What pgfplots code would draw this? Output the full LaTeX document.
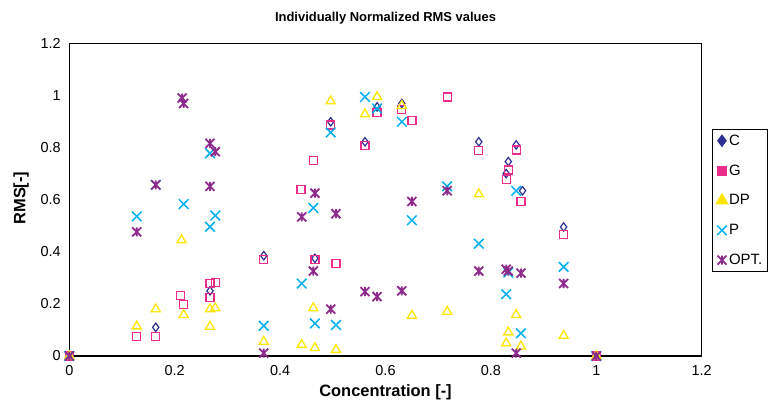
\documentclass[border=0pt]{standalone}
\usepackage{fontspec}
\setmainfont{Liberation Sans}
\usepackage{pgfplots}
\usepackage{pgfplotstable}
\pgfplotsset{compat=1.18}
\definecolor{cC}{HTML}{2E3192}
\definecolor{cG}{HTML}{EC2C8C}
\definecolor{cDP}{HTML}{FFE600}
\definecolor{cP}{HTML}{00B0EE}
\definecolor{cOPT}{HTML}{8E2A8C}
\pgfdeclareplotmark{xstar}{%
  \pgfpathmoveto{\pgfqpoint{0pt}{\pgfplotmarksize}}%
  \pgfpathlineto{\pgfqpoint{0pt}{-\pgfplotmarksize}}%
  \pgfpathmoveto{\pgfqpoint{-\pgfplotmarksize}{-\pgfplotmarksize}}%
  \pgfpathlineto{\pgfqpoint{\pgfplotmarksize}{\pgfplotmarksize}}%
  \pgfpathmoveto{\pgfqpoint{-\pgfplotmarksize}{\pgfplotmarksize}}%
  \pgfpathlineto{\pgfqpoint{\pgfplotmarksize}{-\pgfplotmarksize}}%
  \pgfusepathqstroke}

\pgfplotstableread{
x y
0 0
0.164 0.110
0.267 0.250
0.369 0.385
0.466 0.375
0.496 0.899
0.561 0.822
0.584 0.956
0.631 0.969
0.777 0.822
0.829 0.700
0.833 0.746
0.848 0.810
0.860 0.634
0.938 0.495
1 0
}\dataC
\pgfplotstableread{
x y
0 0
0.128 0.074
0.164 0.074
0.2115 0.2325
0.217 0.197
0.267 0.224
0.267 0.278
0.277 0.282
0.369 0.371
0.4395 0.6395
0.463 0.750
0.466 0.371
0.496 0.886
0.506 0.354
0.561 0.807
0.584 0.935
0.631 0.947
0.650 0.904
0.717 0.994
0.777 0.788
0.829 0.676
0.833 0.714
0.848 0.791
0.857 0.593
0.938 0.466
1 0
}\dataG
\pgfplotstableread{
x y
0 0
0.128 0.114
0.164 0.180
0.213 0.445
0.217 0.158
0.267 0.113
0.267 0.180
0.277 0.184
0.369 0.055
0.441 0.043
0.463 0.184
0.466 0.031
0.496 0.978
0.506 0.024
0.561 0.928
0.584 0.994
0.631 0.960
0.650 0.155
0.717 0.170
0.777 0.621
0.829 0.049
0.833 0.091
0.848 0.158
0.857 0.037
0.938 0.078
1 0
}\dataDP
\pgfplotstableread{
x y
0 0
0.128 0.536
0.164 0.657
0.217 0.583
0.267 0.778
0.267 0.496
0.277 0.539
0.369 0.116
0.441 0.278
0.463 0.568
0.466 0.125
0.496 0.858
0.506 0.119
0.561 0.994
0.584 0.950
0.631 0.899
0.650 0.521
0.717 0.651
0.777 0.431
0.829 0.237
0.833 0.320
0.848 0.634
0.857 0.087
0.938 0.342
1 0
}\dataP
\pgfplotstableread{
x y
0 0
0.128 0.476
0.164 0.657
0.214 0.990
0.217 0.969
0.267 0.816
0.267 0.651
0.277 0.784
0.369 0.011
0.441 0.534
0.463 0.326
0.466 0.625
0.496 0.180
0.506 0.546
0.561 0.247
0.584 0.228
0.631 0.250
0.650 0.593
0.717 0.634
0.777 0.326
0.829 0.333
0.833 0.326
0.848 0.011
0.857 0.318
0.938 0.278
1 0
}\dataOPT

\begin{document}
\begin{tikzpicture}[x=1bp,y=1bp]
\begin{axis}[
  at={(69.3bp,49bp)}, anchor=south west,
  width=632.4bp, height=312.7bp, scale only axis,
  xmin=0, xmax=1.2, ymin=0, ymax=1.2,
  xtick={0,0.2,0.4,0.6,0.8,1,1.2},
  ytick={0,0.2,0.4,0.6,0.8,1,1.2},
  major tick length=0pt,
  axis line style={line width=1.2bp},
  /pgf/number format/assume math mode=true,
  tick label style={font=\fontsize{14.5}{16}\selectfont},
  xticklabel style={yshift=-6bp},
  yticklabel style={xshift=-5bp},
  title={\textbf{Individually Normalized RMS values}},
  every axis title/.style={at={(axis description cs:0.5,1.0704)}, anchor=base, font=\fontsize{13}{15}\selectfont},
  xlabel={\textbf{Concentration [-]}},
  ylabel={\textbf{RMS[-]}},
  every axis x label/.style={at={(axis description cs:0.5,-0.131)}, anchor=base, font=\fontsize{16.5}{18}\selectfont},
  every axis y label/.style={at={(axis description cs:-0.0695,0.505)}, rotate=90, anchor=base, font=\fontsize{16.5}{18}\selectfont},
  legend style={at={(axis description cs:1.0163,0.726)}, anchor=north west,
    draw=black, line width=0.6bp, font=\fontsize{15}{17}\selectfont,
    inner xsep=4bp, inner ysep=4bp, row sep=15bp, cells={anchor=west},
    nodes={inner sep=1.5bp}},
  legend image code/.code={\draw[mark repeat=2,mark phase=2,#1] plot coordinates {(0bp,0bp) (6bp,0bp) (12bp,0bp)};},
  clip=false,
]
\addplot[only marks, color=cC, mark=diamond, mark size=4.2bp, line width=1.2bp, legend image post style={mark=diamond*, mark size=5.5bp, mark options={fill=cC}}] table[x=x,y=y] {\dataC};
\addlegendentry{C}
\addplot[only marks, color=cG, mark=square, mark size=4bp, line width=1.3bp, legend image post style={mark=square*, mark size=4.5bp, mark options={fill=cG, draw=cG}}] table[x=x,y=y] {\dataG};
\addlegendentry{G}
\addplot[only marks, color=cDP, mark=triangle, mark size=5.2bp, line width=1.3bp, legend image post style={mark=triangle*, mark size=6.5bp, mark options={fill=cDP}}] table[x=x,y=y] {\dataDP};
\addlegendentry{DP}
\addplot[only marks, color=cP, mark=x, mark size=6.8bp, line width=1.5bp] table[x=x,y=y] {\dataP};
\addlegendentry{P}
\addplot[only marks, color=cOPT, mark=xstar, mark size=4.5bp, line width=1.8bp] table[x=x,y=y] {\dataOPT};
\addlegendentry{OPT.}
\end{axis}
\pgfresetboundingbox
\path[use as bounding box] (0,0) rectangle (771,405);
\end{tikzpicture}
\end{document}
